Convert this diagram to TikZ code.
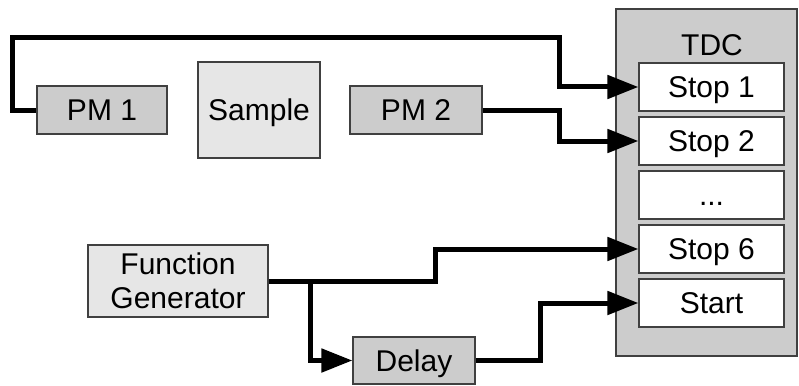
\documentclass[tikz,border=0pt]{standalone}
\usepackage{fontspec}
\setmainfont{Liberation Sans}
\usetikzlibrary{arrows.meta}
\definecolor{boxdark}{HTML}{CCCCCC}
\definecolor{boxlight}{HTML}{E6E6E6}
\definecolor{edge}{HTML}{404040}
\begin{document}
\begin{tikzpicture}[x=1pt,y=-1pt,
  every node/.style={font=\fontsize{30}{34.5}\selectfont, inner sep=0pt},
  capc/.style={text height=21.5pt, text depth=0pt},
  darkbox/.style={draw=edge, line width=1.2pt, fill=boxdark},
  lightbox/.style={draw=edge, line width=1.2pt, fill=boxlight},
  slot/.style={capc, draw=edge, line width=1.2pt, fill=white, minimum width=145pt, minimum height=48pt},
  wire/.style={line width=5pt, line join=miter},
  arr/.style={wire, -{Triangle[length=31pt,width=23pt]}}]
\useasboundingbox (0,0) rectangle (799,385);
% TDC frame
\node[darkbox, minimum width=181pt, minimum height=347pt] (tdc) at (706.5,182.5) {};
\node[capc] (tdclabel) at (712,45) {TDC};
\node[slot] (stop1) at (711.5,87) {Stop 1};
\node[slot] (stop2) at (711.5,141) {Stop 2};
\node[slot] (dots) at (711.5,195) {...};
\node[slot] (stop6) at (711.5,249) {Stop 6};
\node[slot] (start) at (711.5,303) {Start};
% sources
\node[darkbox, capc, minimum width=130pt, minimum height=48pt] (pm1) at (102,110) {PM 1};
\node[lightbox, capc, minimum width=122pt, minimum height=96pt] (sample) at (259,110) {Sample};
\node[darkbox, capc, minimum width=132pt, minimum height=48pt] (pm2) at (416,110) {PM 2};
\node[lightbox, minimum width=180pt, minimum height=72pt, align=center] (fg) at (178,281) {Function\\Generator};
\node[darkbox, capc, minimum width=122pt, minimum height=47pt] (delay) at (414,360.5) {Delay};
% wires
\coordinate (tl) at (12,38);
\coordinate (j1) at (559,87);
\coordinate (j2) at (559,110);
\coordinate (j6) at (435,281);
\coordinate (br) at (310,281);
\coordinate (jd) at (540,360.5);
\draw[arr] (pm1.west) -| (tl) -| (j1) -- (stop1.west);
\draw[arr] (pm2.east) -- (j2) |- (stop2.west);
\draw[arr] (fg.east) -- (j6) |- (stop6.west);
\draw[arr] (br) |- (delay.west);
\draw[arr] (delay.east) -- (jd) |- (start.west);
\end{tikzpicture}
\end{document}
